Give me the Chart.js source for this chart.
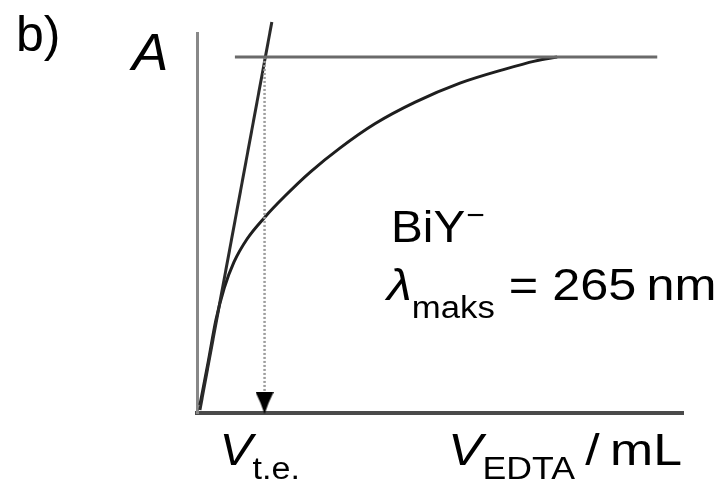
<!DOCTYPE html>
<html>
<head>
<meta charset="utf-8">
<script src="https://cdn.jsdelivr.net/npm/chart.js@4"></script>
<style>
  html, body { margin: 0; padding: 0; background: #fff; }
  #wrap { width: 720px; height: 483px; }
</style>
</head>
<body>
<div id="wrap"><canvas id="titrChart"></canvas></div>
<script>
// absorbance of BiY- vs. volume of EDTA added (arbitrary units)
const curveV = [0.06, 0.23, 0.39, 0.56, 0.76, 1.03, 1.40, 1.81, 2.33, 2.94, 3.66, 4.49, 5.41, 6.34, 6.95, 7.41];
const curveA = [0.021, 0.134, 0.245, 0.329, 0.397, 0.458, 0.516, 0.571, 0.634, 0.697, 0.761, 0.818, 0.868, 0.905, 0.926, 0.937];

// initial slope and end plateau
const tangentV = [0.06, 1.54];
const tangentA = [0.008, 1.029];
const plateauV = [0.78, 9.47];
const plateauA = [0.937, 0.937];

// end point read on the volume axis
const endV = 1.39;
const endA = [0.937, 0.026];

const pts = (xs, ys) => xs.map((x, i) => ({ x: x, y: ys[i] }));

const sans = '"Liberation Sans", Arial, sans-serif';

// arrowhead used as the point style at the foot of the dotted line
function makeArrowHead() {
    const c = document.createElement('canvas');
    c.width = 18;
    c.height = 22;
    const g = c.getContext('2d');
    g.fillStyle = '#000';
    g.beginPath();
    g.moveTo(0, 0);
    g.lineTo(18, 0);
    g.lineTo(13, 11);
    g.lineTo(9, 22);
    g.lineTo(5, 11);
    g.closePath();
    g.fill();
    return c;
}
const arrowHead = makeArrowHead();

// draws text pieces one after another (for sub/superscripts), sx = horizontal stretch
function drawRuns(ctx, x, y, runs, sx) {
    sx = sx || 1;
    runs.forEach(r => {
        ctx.font = r.font;
        x += (r.dx || 0);
        ctx.save();
        ctx.translate(x, y + (r.dy || 0));
        ctx.scale(sx, 1);
        ctx.fillText(r.text, 0, 0);
        ctx.restore();
        x += ctx.measureText(r.text).width * sx;
    });
}

const labelsPlugin = {
    id: 'labels',
    afterDraw(chart) {
        const ctx = chart.ctx;
        const xs = chart.scales.x;
        ctx.save();
        ctx.fillStyle = '#000';
        ctx.textBaseline = 'alphabetic';
        ctx.textAlign = 'left';

        drawRuns(ctx, 16, 51, [{ text: 'b)', font: '50px ' + sans }]);
        drawRuns(ctx, 132, 70, [{ text: 'A', font: 'italic 52px ' + sans }], 1.05);

        drawRuns(ctx, 391, 242, [
            { text: 'BiY', font: '45px ' + sans },
            { text: '\u2212', font: '30px ' + sans, dy: -17, dx: 1 }
        ], 1.06);
        drawRuns(ctx, 387, 300, [
            { text: '\u03bb', font: 'italic 45px ' + sans },
            { text: 'maks', font: '31px ' + sans, dy: 18 },
            { text: ' = 265\u2009nm', font: '45px ' + sans }
        ], 1.12);

        const vx = xs.getPixelForValue(endV);
        drawRuns(ctx, vx - 45, 465, [
            { text: 'V', font: 'italic 45px ' + sans },
            { text: 't.e.', font: '31px ' + sans, dy: 14 }
        ], 1.1);
        drawRuns(ctx, 448, 465, [
            { text: 'V', font: 'italic 45px ' + sans },
            { text: 'EDTA', font: '31px ' + sans, dy: 14 },
            { text: '\u2009/\u2009mL', font: '45px ' + sans }
        ], 1.15);
        ctx.restore();
    }
};

new Chart(document.getElementById('titrChart'), {
    type: 'line',
    data: {
        datasets: [
            {
                label: 'plateau',
                data: pts(plateauV, plateauA),
                borderColor: '#6a6a6a',
                borderWidth: 3,
                pointRadius: 0
            },
            {
                label: 'end point',
                data: pts([endV, endV], endA),
                borderColor: '#9c9c9c',
                borderWidth: 2.5,
                borderDash: [2, 2],
                pointRadius: [0, 10],
                pointStyle: arrowHead,
                clip: false
            },
            {
                label: 'tangent',
                data: pts(tangentV, tangentA),
                borderColor: '#2a2a2a',
                borderWidth: 3,
                pointRadius: 0,
                clip: false
            },
            {
                label: 'A',
                data: pts(curveV, curveA),
                borderColor: '#1e1e1e',
                borderWidth: 3,
                pointRadius: 0,
                cubicInterpolationMode: 'monotone'
            }
        ]
    },
    options: {
        responsive: true,
        maintainAspectRatio: false,
        animation: false,
        layout: { padding: { left: 189, right: 37, top: 33, bottom: 62 } },
        plugins: {
            legend: { display: false },
            tooltip: { enabled: false }
        },
        scales: {
            x: {
                type: 'linear',
                min: 0,
                max: 10,
                grid: { display: false },
                ticks: { display: false },
                border: { display: true, color: '#4a4a4a', width: 4 }
            },
            y: {
                type: 'linear',
                min: 0,
                max: 1,
                grid: { display: false },
                ticks: { display: false },
                border: { display: true, color: '#888', width: 3 }
            }
        }
    },
    plugins: [labelsPlugin]
});
</script>
</body>
</html>
